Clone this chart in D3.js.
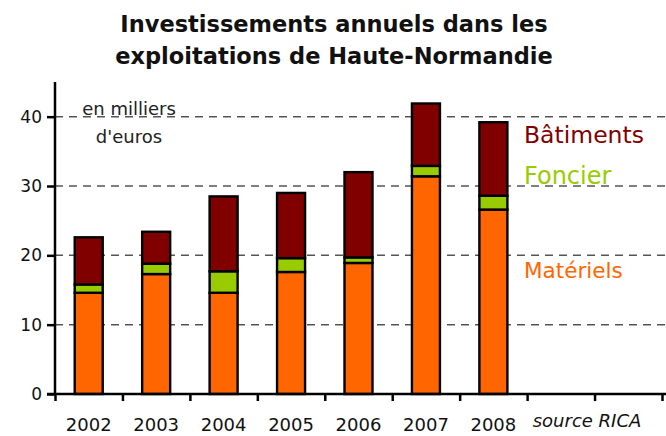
<!DOCTYPE html>
<html>
<head>
<meta charset="utf-8">
<script src="https://cdn.jsdelivr.net/npm/d3@7"></script>
<style>
  body { margin: 0; background: #fff; }
  svg { display: block; font-family: "DejaVu Sans", sans-serif; }
</style>
</head>
<body>
<script>
// values, in thousands of euros
const years = ["2002", "2003", "2004", "2005", "2006", "2007", "2008"];
const materiels = [14.6, 17.3, 14.6, 17.6, 18.9, 31.4, 26.6];
const foncier = [1.2, 1.5, 3.1, 2.0, 0.8, 1.5, 2.0];
const batiments = [6.8, 4.6, 10.8, 9.4, 12.3, 9.0, 10.6];
const yTicks = [0, 10, 20, 30, 40];

const seriesNames = ["Matériels", "Foncier", "Bâtiments"];
const colors = ["#ff6600", "#99cc00", "#800000"];

const W = 666, H = 436;
const margin = { top: 82, right: 4, bottom: 42, left: 55 };

const svg = d3.select("body").append("svg")
    .attr("width", W)
    .attr("height", H);

// 9 slots on the axis, the last two are empty
const nSlots = 9;
const x = d3.scaleBand()
    .domain(d3.range(nSlots))
    .range([margin.left, 662])
    .paddingInner(0)
    .paddingOuter(0);

const xEdges = d3.scaleLinear()
    .domain([0, nSlots])
    .range([margin.left, 662]);

const y = d3.scaleLinear()
    .domain([0, 45])
    .range([H - margin.bottom, margin.top]);

// title
const title = svg.append("text")
    .attr("text-anchor", "middle")
    .attr("font-weight", "bold")
    .attr("font-size", 22.5)
    .attr("fill", "#111");
title.append("tspan").attr("x", 334).attr("y", 32).text("Investissements annuels dans les");
title.append("tspan").attr("x", 334).attr("y", 64).text("exploitations de Haute-Normandie");

// dashed grid
svg.append("g")
    .selectAll("line")
    .data(yTicks.filter(d => d > 0))
    .join("line")
    .attr("x1", margin.left)
    .attr("x2", W)
    .attr("y1", d => y(d))
    .attr("y2", d => y(d))
    .attr("stroke", "#555")
    .attr("stroke-width", 1.5)
    .attr("stroke-dasharray", "8,6");

// unit note
svg.append("text")
    .attr("x", 129).attr("y", 115)
    .attr("text-anchor", "middle")
    .attr("font-size", 18)
    .attr("fill", "#222")
    .text("en milliers");
svg.append("text")
    .attr("x", 129).attr("y", 143)
    .attr("text-anchor", "middle")
    .attr("font-size", 18)
    .attr("fill", "#222")
    .text("d'euros");

// stacked bars
const rows = years.map((yr, i) => ({ i, Matériels: materiels[i], Foncier: foncier[i], Bâtiments: batiments[i] }));
const stack = d3.stack().keys(seriesNames)(rows);

const barW = 28;
svg.append("g")
    .selectAll("g")
    .data(stack)
    .join("g")
    .attr("fill", (d, k) => colors[k])
    .selectAll("rect")
    .data(d => d)
    .join("rect")
    .attr("x", d => x(d.data.i) + x.bandwidth() / 2 - barW / 2)
    .attr("width", barW)
    .attr("y", d => y(d[1]))
    .attr("height", d => y(d[0]) - y(d[1]))
    .attr("stroke", "#000")
    .attr("stroke-width", 2.4);

// axes
const yAxis = svg.append("g")
    .attr("transform", `translate(${margin.left},0)`)
    .call(d3.axisLeft(y).tickValues(yTicks).tickSize(8).tickPadding(5).tickFormat(d3.format("d")));
yAxis.select(".domain").attr("stroke", "#000").attr("stroke-width", 2.5)
    .attr("d", `M0,${y(0)}V${margin.top}`);
yAxis.selectAll(".tick line").attr("stroke", "#000").attr("stroke-width", 2.5);
yAxis.selectAll(".tick text").attr("font-size", 17).attr("fill", "#111").attr("font-family", "DejaVu Sans");

const xAxis = svg.append("g")
    .attr("transform", `translate(0,${y(0)})`)
    .call(d3.axisBottom(xEdges).tickValues(d3.range(nSlots + 1)).tickSize(7).tickFormat(""));
xAxis.select(".domain").attr("stroke", "#000").attr("stroke-width", 2.5)
    .attr("d", `M${margin.left - 8},0H${W}`);
xAxis.selectAll(".tick line").attr("stroke", "#000").attr("stroke-width", 2.5);

svg.append("g")
    .selectAll("text")
    .data(years)
    .join("text")
    .attr("x", (d, i) => x(i) + x.bandwidth() / 2)
    .attr("y", 431)
    .attr("text-anchor", "middle")
    .attr("font-size", 18)
    .attr("fill", "#111")
    .text(d => d);

svg.append("text")
    .attr("x", 587).attr("y", 427)
    .attr("text-anchor", "middle")
    .attr("font-size", 18)
    .attr("font-style", "italic")
    .attr("fill", "#111")
    .text("source RICA");

// legend labels beside the last bar
const legendY = [278, 184, 143];
const legendSize = [21.5, 24, 23.5];
svg.append("g")
    .selectAll("text")
    .data(seriesNames)
    .join("text")
    .attr("x", 524)
    .attr("y", (d, k) => legendY[k])
    .attr("font-size", (d, k) => legendSize[k])
    .attr("fill", (d, k) => colors[k])
    .text(d => d);
</script>
</body>
</html>
